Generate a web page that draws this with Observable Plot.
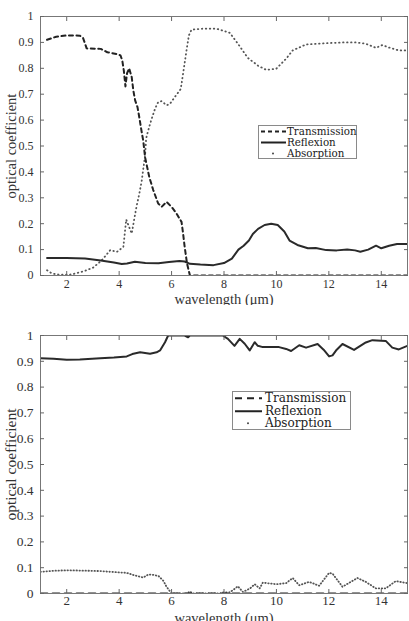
<!DOCTYPE html>
<html><head><meta charset="utf-8">
<script src="https://cdn.jsdelivr.net/npm/d3@7"></script>
<script src="https://cdn.jsdelivr.net/npm/@observablehq/plot@0.6"></script>
<style>
html,body{margin:0;padding:0;background:#fff;}
#wrap{position:relative;width:409px;height:621px;overflow:hidden;font-family:"Liberation Serif",serif;}
.panel{position:absolute;left:0;}
#p1 [aria-label="x-axis label"], #p1 [aria-label="y-axis label"]{font-size:14.5px !important;}
#p2 [aria-label="y-axis label"]{font-size:15.5px !important;}
#p2 [aria-label="x-axis label"]{font-size:14.5px !important;}
.legend{position:absolute;border:1px solid #8a8a8a;background:#fff;box-sizing:border-box;color:#222;font-family:"DejaVu Serif",serif;}
.legend .row{display:flex;align-items:center;white-space:nowrap;}
.legend svg{flex:none;}
</style></head><body><div id="wrap"></div>
<script>
// ---- shared labels / ticks ----
const seriesNames = ["Transmission", "Reflexion", "Absorption"];
const xTicks = [2, 4, 6, 8, 10, 12, 14];
const yTicks = [0, 0.1, 0.2, 0.3, 0.4, 0.5, 0.6, 0.7, 0.8, 0.9, 1];
const xDomain = [1, 15];
const yDomain = [0, 1];
const xLabel = "wavelength (μm)";
const yLabel = "optical coefficient";

// ---- top panel ----
const topTransmission = [[1.25,0.91],[1.6,0.922],[2.0,0.927],[2.5,0.926],[2.62,0.918],[2.7,0.895],[2.76,0.877],[3.3,0.875],[3.55,0.862],[3.9,0.855],[4.05,0.85],[4.12,0.83],[4.18,0.79],[4.24,0.73],[4.3,0.78],[4.38,0.80],[4.48,0.766],[4.54,0.715],[4.61,0.676],[4.7,0.65],[4.77,0.61],[4.85,0.56],[4.92,0.52],[4.99,0.456],[5.15,0.38],[5.3,0.33],[5.49,0.278],[5.62,0.265],[5.81,0.284],[6.0,0.265],[6.19,0.239],[6.38,0.207],[6.44,0.162],[6.5,0.11],[6.59,0.046],[6.7,0],[15,0]];
const topReflexion = [[1.25,0.068],[2.0,0.068],[2.7,0.066],[3.3,0.058],[3.8,0.05],[4.1,0.044],[4.3,0.046],[4.6,0.053],[5.0,0.048],[5.5,0.047],[5.9,0.052],[6.3,0.056],[6.5,0.054],[6.7,0.045],[7.1,0.042],[7.6,0.04],[8.0,0.048],[8.3,0.065],[8.55,0.1],[8.75,0.115],[8.95,0.135],[9.1,0.16],[9.3,0.18],[9.55,0.195],[9.8,0.2],[10.05,0.195],[10.3,0.17],[10.5,0.135],[10.8,0.118],[11.2,0.105],[11.5,0.106],[11.9,0.098],[12.3,0.097],[12.7,0.1],[13.0,0.097],[13.2,0.092],[13.5,0.1],[13.8,0.115],[14.0,0.105],[14.3,0.115],[14.6,0.122],[15,0.122]];
const topAbsorption = [[1.25,0.02],[1.4,0.01],[1.6,0.004],[1.9,0.003],[2.2,0.004],[2.4,0.01],[2.6,0.015],[2.75,0.02],[3.0,0.03],[3.3,0.055],[3.4,0.066],[3.66,0.098],[3.91,0.091],[4.16,0.11],[4.27,0.216],[4.48,0.162],[4.58,0.22],[4.67,0.27],[4.77,0.316],[4.86,0.365],[4.99,0.464],[5.03,0.53],[5.15,0.575],[5.24,0.605],[5.37,0.644],[5.49,0.67],[5.62,0.673],[5.81,0.657],[5.94,0.663],[6.13,0.69],[6.35,0.72],[6.44,0.78],[6.57,0.869],[6.66,0.927],[6.76,0.949],[7.2,0.953],[7.71,0.953],[8.22,0.937],[8.53,0.895],[8.91,0.84],[9.3,0.81],[9.61,0.794],[9.99,0.798],[10.37,0.837],[10.62,0.869],[11.13,0.892],[11.6,0.895],[12.14,0.898],[12.6,0.9],[13.03,0.9],[13.4,0.895],[13.8,0.879],[14.04,0.89],[14.3,0.88],[14.67,0.869],[15,0.869]];

// ---- bottom panel ----
const botTransmission = [[1,0],[15,0]];
const botReflexion = [[1.0,0.912],[1.5,0.91],[2.0,0.906],[2.5,0.907],[3.28,0.912],[3.8,0.915],[4.29,0.919],[4.5,0.928],[4.8,0.935],[5.18,0.929],[5.43,0.935],[5.56,0.942],[5.75,0.974],[5.87,1.0],[6.5,1.0],[6.63,0.993],[6.7,1.0],[7.65,1.0],[7.95,1.0],[8.15,0.987],[8.4,0.96],[8.6,0.987],[8.79,0.968],[8.98,0.942],[9.17,0.974],[9.29,0.96],[9.48,0.955],[10.1,0.955],[10.37,0.948],[10.56,0.94],[10.87,0.962],[11.13,0.953],[11.57,0.967],[11.8,0.945],[12.01,0.919],[12.14,0.923],[12.3,0.945],[12.52,0.967],[12.96,0.944],[13.41,0.973],[13.66,0.982],[14.17,0.979],[14.42,0.953],[14.67,0.946],[15,0.96]];
const botAbsorption = [[1.0,0.084],[1.5,0.088],[2.0,0.09],[2.5,0.089],[3.28,0.087],[3.8,0.083],[4.29,0.08],[4.6,0.07],[4.92,0.062],[5.12,0.074],[5.3,0.072],[5.5,0.068],[5.68,0.05],[5.81,0.026],[6.0,0],[6.6,0],[6.7,0.008],[6.8,0],[7.9,0],[7.96,0.004],[8.2,0.004],[8.34,0.013],[8.53,0.028],[8.72,0.006],[9.0,0.02],[9.17,0.036],[9.36,0.02],[9.48,0.042],[9.99,0.036],[10.37,0.04],[10.62,0.06],[10.87,0.032],[11.25,0.045],[11.63,0.03],[12.01,0.08],[12.14,0.077],[12.52,0.026],[13.09,0.06],[13.41,0.045],[13.79,0.02],[14.17,0.02],[14.55,0.048],[15,0.04]];

const toRows = arr => arr.map(([x, y]) => ({x, y}));
const fmt = d3.format("~g");

function panel(cfg) {
  const T = toRows(cfg.trans), R = toRows(cfg.refl), A = toRows(cfg.abs);
  return Plot.plot({
    width: 409, height: cfg.height,
    marginLeft: 40, marginRight: 2, marginTop: cfg.mt, marginBottom: cfg.mb,
    style: {fontFamily: "'Liberation Serif', serif", color: "#333", background: "#fff"},
    x: {domain: xDomain}, y: {domain: yDomain},
    marks: [
      Plot.line(A, {x: "x", y: "y", stroke: "#555", strokeWidth: 1.8, strokeLinecap: "round", strokeDasharray: cfg.absDash, clip: true}),
      Plot.line(R, {x: "x", y: "y", stroke: "#2a2a2a", strokeWidth: 2, clip: true}),
      Plot.line(T, {x: "x", y: "y", stroke: "#222", strokeWidth: 2, strokeDasharray: cfg.transDash, clip: true}),
      Plot.frame({stroke: "#777"}),
      Plot.axisX({anchor: "bottom", ticks: xTicks, tickSize: 4, dy: -4, tickFormat: () => "", label: null, stroke: "#666"}),
      Plot.axisX({anchor: "top", ticks: xTicks, tickSize: 4, dy: 4, tickFormat: () => "", label: null, stroke: "#666"}),
      Plot.axisY({anchor: "left", ticks: yTicks, tickSize: 4, dx: 4, tickFormat: () => "", label: null, stroke: "#666"}),
      Plot.axisY({anchor: "right", ticks: yTicks, tickSize: 4, dx: -4, tickFormat: () => "", label: null, stroke: "#666"}),
      Plot.axisX({anchor: "bottom", ticks: xTicks, tickSize: 0, tickPadding: cfg.xPad, tickFormat: fmt, fontSize: cfg.xTickFont,
        label: xLabel, labelAnchor: "center", labelOffset: cfg.xLabelOffset, labelArrow: "none"}),
      Plot.axisY({anchor: "left", ticks: yTicks, tickSize: 0, tickPadding: 7, tickFormat: fmt, fontSize: cfg.tickFont,
        label: yLabel, labelAnchor: "center", labelOffset: cfg.yLabelOffset, labelArrow: "none"})
    ]
  });
}

function legend(cfg) {
  const box = document.createElement("div");
  box.className = "legend";
  Object.assign(box.style, {left: cfg.left + "px", top: cfg.top + "px", width: cfg.w + "px", height: cfg.h + "px", fontSize: cfg.font + "px", paddingTop: cfg.padTop + "px", lineHeight: cfg.row + "px"});
  const styles = [
    {dash: cfg.transDash, width: 2, dot: false},
    {dash: null, width: 2, dot: false},
    {dash: null, width: 0, dot: true}
  ];
  seriesNames.forEach((name, i) => {
    const row = document.createElement("div");
    row.className = "row";
    row.style.height = cfg.row + "px";
    const s = styles[i];
    const sw = cfg.sample;
    let inner = s.dot
      ? `<circle cx="${sw / 2}" cy="${cfg.row / 2}" r="1" fill="#444"/>`
      : `<line x1="1" x2="${sw}" y1="${cfg.row / 2}" y2="${cfg.row / 2}" stroke="#222" stroke-width="${s.width}" ${s.dash ? `stroke-dasharray="${s.dash}"` : ""}/>`;
    row.innerHTML = `<svg width="${sw + cfg.gap}" height="${cfg.row}" style="margin-left:${cfg.padLeft}px">${inner}</svg><span>${name}</span>`;
    box.appendChild(row);
  });
  return box;
}

const wrap = document.getElementById("wrap");
const top1 = panel({height: 305, mt: 16, mb: 30, trans: topTransmission, refl: topReflexion, abs: topAbsorption,
  transDash: "4,3.5", absDash: "0.5,3.5", tickFont: 12, xTickFont: 12, xPad: 4, xLabelOffset: 28, yLabelOffset: 35});
top1.classList.add("panel"); top1.style.top = "0px"; top1.id = "p1";
const bot1 = panel({height: 316, mt: 30, mb: 28, trans: botTransmission, refl: botReflexion, abs: botAbsorption,
  transDash: "7,5", absDash: "0.5,2.5", tickFont: 13.5, xTickFont: 13, xPad: 2, xLabelOffset: 29, yLabelOffset: 36});
bot1.classList.add("panel"); bot1.style.top = "305px"; bot1.id = "p2";
wrap.appendChild(top1);
wrap.appendChild(bot1);
wrap.appendChild(legend({left: 258, top: 125, w: 99, h: 34, font: 10.3, row: 11, padTop: 0, padLeft: 1, sample: 26, gap: 1, transDash: "4,3"}));
wrap.appendChild(legend({left: 232, top: 391, w: 119, h: 39, font: 12, row: 12.5, padTop: 0, padLeft: 1, sample: 28, gap: 3, transDash: "7,5"}));
</script>
</body></html>
